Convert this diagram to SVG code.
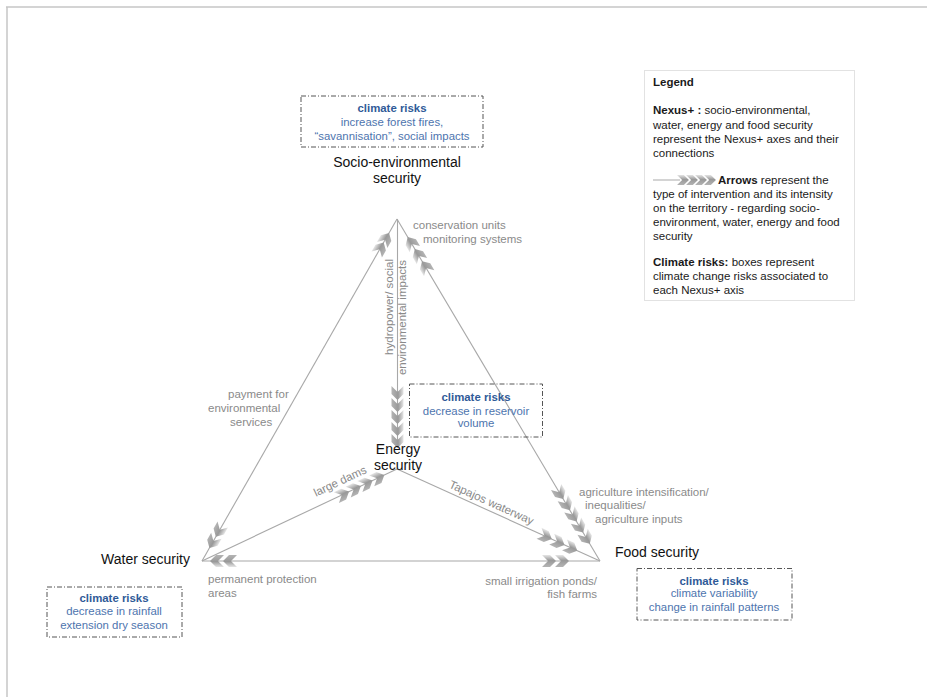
<svg xmlns="http://www.w3.org/2000/svg" xmlns:xlink="http://www.w3.org/1999/xlink" width="927" height="697" viewBox="0 0 927 697">
<defs>
<style>
.frame{stroke:#c6c6c6;stroke-width:1.5;fill:none}
.edge{stroke:#a8a8a8;stroke-width:1.1;fill:none}
.risk{fill:none;stroke:#555;stroke-width:1;stroke-dasharray:5 2 1 2}
.legendbox{fill:#fff;stroke:#e2e2e2;stroke-width:1}
text{font-family:"Liberation Sans",Arial,Helvetica,sans-serif}
.main{font-size:14px;fill:#111}
.lbl{font-size:11.5px;fill:#8a8a8a}
.rt{font-size:11.4px;fill:#4d74ae;text-anchor:middle}
.rtb{font-weight:bold;fill:#2f5a98}
.lg{font-size:11.5px;fill:#1a1a1a}
.b{font-weight:bold}
</style>
<linearGradient id="chg" x1="0" y1="0" x2="0" y2="1">
<stop offset="0" stop-color="#e6e6e6"/>
<stop offset="0.45" stop-color="#999"/>
<stop offset="1" stop-color="#b4b4b4"/>
</linearGradient>
<polygon id="chev" points="-7,-6 1,-6 7,0 1,6 -7,6 -1,0" fill="url(#chg)"/>
</defs>
<rect width="927" height="697" fill="#fff"/>
<line class="frame" x1="6" y1="7" x2="927" y2="7"/>
<line class="frame" x1="7" y1="7" x2="7" y2="697"/>

<g id="connectors">
<line class="edge" x1="202" y1="561" x2="397" y2="219"/>
<line class="edge" x1="600" y1="561" x2="397" y2="219"/>
<line class="edge" x1="397.5" y1="219" x2="397.5" y2="440"/>
<line class="edge" x1="397" y1="469" x2="202" y2="561"/>
<line class="edge" x1="397" y1="469" x2="600" y2="561"/>
<line class="edge" x1="202" y1="561" x2="600" y2="561"/>
<!-- left edge chevrons -->
<use xlink:href="#chev" transform="translate(385.6,239) rotate(-60.3)"/>
<use xlink:href="#chev" transform="translate(380.2,248.5) rotate(-60.3)"/>
<use xlink:href="#chev" transform="translate(212.9,541.9) rotate(119.7)"/>
<use xlink:href="#chev" transform="translate(219.3,530.6) rotate(119.7)"/>
<!-- right edge chevrons -->
<use xlink:href="#chev" transform="translate(411.3,243.1) rotate(-120.7)"/>
<use xlink:href="#chev" transform="translate(418.4,255.1) rotate(-120.7)"/>
<use xlink:href="#chev" transform="translate(425.6,267.2) rotate(-120.7)"/>
<use xlink:href="#chev" transform="translate(586.2,537.8) rotate(59.3)"/>
<use xlink:href="#chev" transform="translate(579.6,526.6) rotate(59.3)"/>
<use xlink:href="#chev" transform="translate(573,515.4) rotate(59.3)"/>
<use xlink:href="#chev" transform="translate(566.4,504.2) rotate(59.3)"/>
<use xlink:href="#chev" transform="translate(559.7,493) rotate(59.3)"/>
<!-- vertical chevrons -->
<use xlink:href="#chev" transform="translate(397.5,393) rotate(90)"/>
<use xlink:href="#chev" transform="translate(397.5,405) rotate(90)"/>
<use xlink:href="#chev" transform="translate(397.5,417) rotate(90)"/>
<use xlink:href="#chev" transform="translate(397.5,429) rotate(90)"/>
<use xlink:href="#chev" transform="translate(397.5,441) rotate(90)"/>
<!-- energy-water chevrons -->
<use xlink:href="#chev" transform="translate(378,477.9) rotate(-25.25)"/>
<use xlink:href="#chev" transform="translate(366.2,483.5) rotate(-25.25)"/>
<use xlink:href="#chev" transform="translate(354.5,489.1) rotate(-25.25)"/>
<use xlink:href="#chev" transform="translate(342.7,494.6) rotate(-25.25)"/>
<!-- energy-food chevrons -->
<use xlink:href="#chev" transform="translate(570.9,547.8) rotate(24.4)"/>
<use xlink:href="#chev" transform="translate(558.1,542) rotate(24.4)"/>
<use xlink:href="#chev" transform="translate(545.4,536.2) rotate(24.4)"/>
<!-- bottom chevrons -->
<use xlink:href="#chev" transform="translate(217,561) rotate(180)"/>
<use xlink:href="#chev" transform="translate(230,561) rotate(180)"/>
<use xlink:href="#chev" transform="translate(549,561)"/>
<use xlink:href="#chev" transform="translate(562,561)"/>
</g>

<g id="edge-labels">
<text class="lbl" x="413" y="229">conservation units</text>
<text class="lbl" x="423" y="243">monitoring systems</text>
<text class="lbl" text-anchor="end" transform="translate(393,259) rotate(-90)">hydropower/ social</text>
<text class="lbl" text-anchor="end" transform="translate(405.5,260) rotate(-90)">environmental impacts</text>
<text class="lbl" x="228" y="397.5">payment for</text>
<text class="lbl" x="208" y="412">environmental</text>
<text class="lbl" x="230" y="426">services</text>
<text class="lbl" text-anchor="middle" transform="translate(340,481) rotate(-25.25)" dy="4">large dams</text>
<text class="lbl" text-anchor="middle" transform="translate(491.5,502.5) rotate(24.4)" dy="4">Tapajos waterway</text>
<text class="lbl" x="579" y="496">agriculture intensification/</text>
<text class="lbl" x="585" y="509">inequalities/</text>
<text class="lbl" x="595" y="523">agriculture inputs</text>
<text class="lbl" x="597" y="585" text-anchor="end">small irrigation ponds/</text>
<text class="lbl" x="597" y="598" text-anchor="end">fish farms</text>
<text class="lbl" x="208" y="583">permanent protection</text>
<text class="lbl" x="208" y="597">areas</text>
</g>

<g id="node-socio">
<text class="main" x="397" y="166.5" text-anchor="middle">Socio-environmental</text>
<text class="main" x="397" y="183" text-anchor="middle">security</text>
</g>
<g id="node-energy">
<text class="main" x="398" y="454" text-anchor="middle">Energy</text>
<text class="main" x="398" y="470" text-anchor="middle">security</text>
</g>
<g id="node-water">
<text class="main" x="190" y="564" text-anchor="end">Water security</text>
</g>
<g id="node-food">
<text class="main" x="615" y="557">Food security</text>
</g>

<g id="risk-socio">
<rect class="risk" x="301" y="96" width="182" height="51"/>
<text class="rt" x="392" y="112.3"><tspan class="rtb">climate risks</tspan></text>
<text class="rt" x="392" y="126.3">increase forest fires,</text>
<text class="rt" x="392" y="139.7">“savannisation”, social impacts</text>
</g>
<g id="risk-energy">
<rect class="risk" x="409.5" y="384" width="133" height="53"/>
<text class="rt" x="476" y="400.7"><tspan class="rtb">climate risks</tspan></text>
<text class="rt" x="476" y="415">decrease in reservoir</text>
<text class="rt" x="476" y="427.3">volume</text>
</g>
<g id="risk-water">
<rect class="risk" x="47" y="587" width="135" height="50"/>
<text class="rt" x="114" y="602.3"><tspan class="rtb">climate risks</tspan></text>
<text class="rt" x="114" y="615">decrease in rainfall</text>
<text class="rt" x="114" y="629">extension dry season</text>
</g>
<g id="risk-food">
<rect class="risk" x="637" y="568.5" width="155" height="51.5"/>
<text class="rt" x="714" y="584.7"><tspan class="rtb">climate risks</tspan></text>
<text class="rt" x="714" y="597.3">climate variability</text>
<text class="rt" x="714" y="611.3">change in rainfall patterns</text>
</g>

<g id="legend">
<rect class="legendbox" x="644.5" y="70.5" width="210" height="230"/>
<text class="lg b" x="653" y="86">Legend</text>
<text class="lg" x="653" y="114"><tspan class="b">Nexus+ :</tspan> socio-environmental,</text>
<text class="lg" x="653" y="128.5">water, energy and food security</text>
<text class="lg" x="653" y="143">represent the Nexus+ axes and their</text>
<text class="lg" x="653" y="157">connections</text>
<line x1="653" y1="180" x2="680" y2="180" stroke="#b8b8b8" stroke-width="1.2"/>
<use xlink:href="#chev" transform="translate(683,180) scale(0.85)"/>
<use xlink:href="#chev" transform="translate(692,180) scale(0.85)"/>
<use xlink:href="#chev" transform="translate(701,180) scale(0.85)"/>
<use xlink:href="#chev" transform="translate(710,180) scale(0.85)"/>
<text class="lg" x="718" y="184"><tspan class="b">Arrows</tspan> represent the</text>
<text class="lg" x="653" y="198">type of intervention and its intensity</text>
<text class="lg" x="653" y="212">on the territory - regarding socio-</text>
<text class="lg" x="653" y="225.5">environment, water, energy and food</text>
<text class="lg" x="653" y="239.5">security</text>
<text class="lg" x="653" y="266"><tspan class="b">Climate risks:</tspan> boxes represent</text>
<text class="lg" x="653" y="280">climate change risks associated to</text>
<text class="lg" x="653" y="294">each Nexus+ axis</text>
</g>
</svg>
